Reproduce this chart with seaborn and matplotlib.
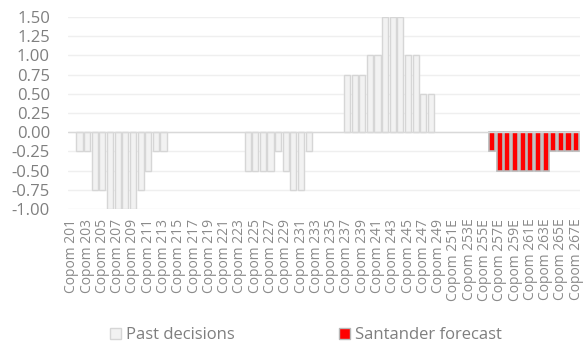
"""
Copom decisions vs Santander forecast (Selic change, p.p.)
"""

import pandas as pd
import seaborn as sns
import matplotlib.pyplot as plt
from matplotlib.patches import Patch

# meeting numbers 201..267, forecasts flagged with "E" from 250 on
meetings = list(range(201, 268))
labels = [f"Copom {m}" if m < 250 else f"Copom {m}E" for m in meetings]

# Copom 201..255
past_decisions = [
    0.0,
    -0.25, -0.25, -0.75, -0.75, -1.0, -1.0, -1.0, -1.0, -0.75, -0.5, -0.25, -0.25,
    0.0, 0.0, 0.0, 0.0, 0.0, 0.0, 0.0, 0.0, 0.0, 0.0,
    -0.5, -0.5, -0.5, -0.5, -0.25, -0.5, -0.75, -0.75, -0.25,
    0.0, 0.0, 0.0, 0.0,
    0.75, 0.75, 0.75, 1.0, 1.0, 1.5, 1.5, 1.5, 1.0, 1.0, 0.5, 0.5,
    0.0, 0.0, 0.0, 0.0, 0.0, 0.0, 0.0,
]
# Copom 256E..267E
santander_forecast = [
    -0.25, -0.5, -0.5, -0.5, -0.5, -0.5, -0.5, -0.5, -0.25, -0.25, -0.25, -0.25,
]

past_df = pd.DataFrame({"meeting": labels[:len(past_decisions)], "change": past_decisions})
past_df = past_df[past_df["change"] != 0]
fc_df = pd.DataFrame({"meeting": labels[len(past_decisions):], "change": santander_forecast})

sns.set_theme(style="white")
plt.rcParams["font.family"] = ["Open Sans", "DejaVu Sans"]

fig = plt.figure(figsize=(5.83, 3.45), dpi=100)
ax = fig.add_axes([68 / 583, 1 - 209 / 345, 512 / 583, 192 / 345])

past_color, past_edge = "#f2f2f2", "#d6d6d6"
fc_color, fc_edge = "#ff0000", "#b8b8b8"

sns.barplot(data=past_df, x="meeting", y="change", order=labels, color=past_color,
            edgecolor=past_edge, linewidth=1.0, width=0.8, saturation=1, ax=ax)
sns.barplot(data=fc_df, x="meeting", y="change", order=labels, color=fc_color,
            edgecolor=fc_edge, linewidth=1.2, width=0.8, saturation=1, ax=ax)

ax.set_xlim(-0.5, len(labels) - 0.5)
ax.set_ylim(-1.0, 1.5)
ax.set_yticks([-1.0, -0.75, -0.5, -0.25, 0.0, 0.25, 0.5, 0.75, 1.0, 1.25, 1.5])
ax.yaxis.set_major_formatter(plt.FormatStrFormatter("%.2f"))
ax.grid(axis="y", color="#efefef", linewidth=1.0)
ax.set_axisbelow(True)
ax.axhline(0, color="#d9d9d9", linewidth=1.0, zorder=1)

ax.set_xticks(range(len(labels)))
ax.set_xticklabels([lab if i % 2 == 0 else "" for i, lab in enumerate(labels)],
                   rotation=90, fontsize=10, color="#8a8a8a")
ax.tick_params(axis="x", length=0, pad=7)
ax.tick_params(axis="y", length=0, pad=13, labelsize=12, labelcolor="#7f7f7f")
ax.set_xlabel("")
ax.set_ylabel("")
for s in ax.spines.values():
    s.set_visible(False)

handles = [
    Patch(facecolor=past_color, edgecolor=past_edge, label="Past decisions"),
    Patch(facecolor=fc_color, edgecolor=fc_edge, label="Santander forecast"),
]
fig.legend(handles=handles, loc="center", bbox_to_anchor=(306 / 583, 1 - 335 / 345),
           ncol=2, frameon=False, fontsize=12, labelcolor="#7f7f7f",
           handlelength=0.65, handleheight=0.65, handletextpad=0.3, columnspacing=6.3)

fig.savefig("out.png", dpi=100)
plt.close()
